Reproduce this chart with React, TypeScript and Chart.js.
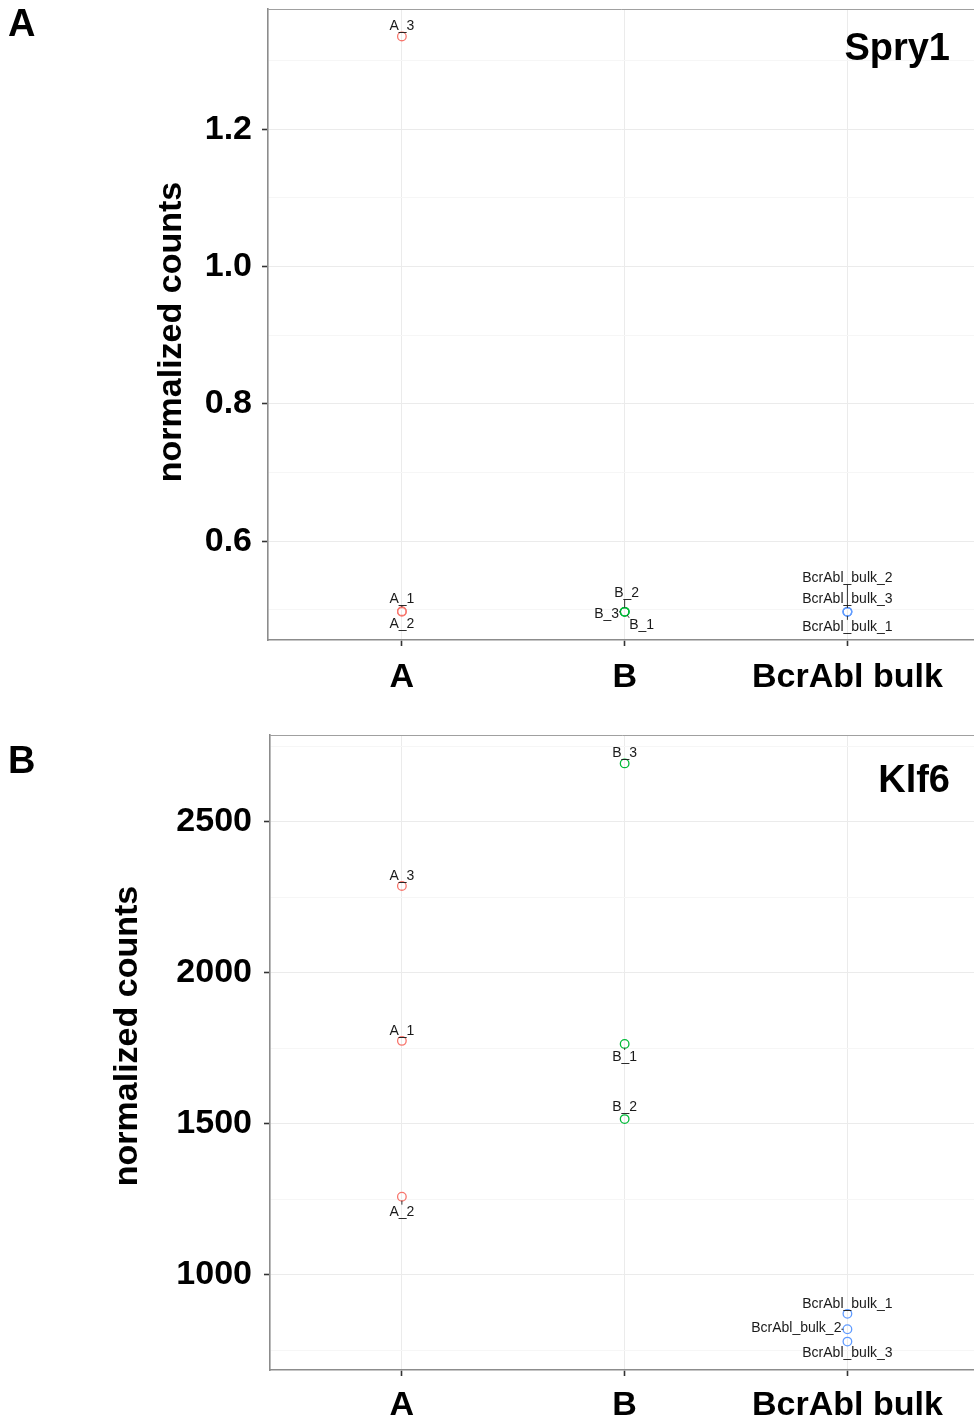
import React, { useEffect, useRef } from "react";
import { Chart, registerables } from "chart.js";

Chart.register(...registerables);

const FONT = "'Liberation Sans', Arial, Helvetica, sans-serif";

// ---------- data ----------
const categories = ["A", "B", "BcrAbl bulk"];
const groupColors = ["#F8766D", "#00BA38", "#619CFF"];

const sampleNamesA = ["A_1", "A_2", "A_3"];
const sampleNamesB = ["B_1", "B_2", "B_3"];
const sampleNamesBulk = ["BcrAbl_bulk_1", "BcrAbl_bulk_2", "BcrAbl_bulk_3"];

// Spry1 normalized counts
const spry1A = [0.498, 0.497, 1.335];
const spry1B = [0.497, 0.497, 0.497];
const spry1Bulk = [0.497, 0.497, 0.497];
const spry1Ticks = [0.5, 0.6, 0.7, 0.8, 0.9, 1.0, 1.1, 1.2, 1.3];
const spry1MajorTicks = [0.6, 0.8, 1.0, 1.2];

// Klf6 normalized counts
const klf6A = [1775, 1259, 2288];
const klf6B = [1765, 1516, 2694];
const klf6Bulk = [871, 820, 779];
const klf6Ticks = [750, 1000, 1250, 1500, 1750, 2000, 2250, 2500, 2750];
const klf6MajorTicks = [1000, 1500, 2000, 2500];

// label placement (pixel offsets from point, text alignment)
type Off = [number, number, "center" | "right"];
const spry1OffA: Off[] = [[0, -12.5, "center"], [0, 12, "center"], [0, -10.5, "center"]];
const spry1OffB: Off[] = [[17, 13, "center"], [2, -19, "center"], [-18, 2, "center"]];
const spry1OffBulk: Off[] = [[0, 15, "center"], [0, -34, "center"], [0, -13, "center"]];
const klf6OffA: Off[] = [[0, -9.5, "center"], [0, 15, "center"], [0, -10, "center"]];
const klf6OffB: Off[] = [[0, 13, "center"], [0, -12, "center"], [0, -10, "center"]];
const klf6OffBulk: Off[] = [[0, -9.5, "center"], [-6, -1.5, "right"], [0, 11.7, "center"]];

const CANVAS_W = 980;

interface PanelSpec {
  gene: string;
  letter: string;
  groups: number[][];
  names: string[][];
  offsets: Off[][];
  ticks: number[];
  majors: number[];
  yMin: number;
  yMax: number;
  xMin: number;
  xMax: number;
  fmt: (v: number) => string;
  canvasHeight: number;
  padTop: number;
  yAxisWidth: number;
  xAxisHeight: number;
  yTickPad: number;
  xTickPad: number;
  titleX: number;
  titleY: number;
  geneBaseline: number;
  letterBaseline: number;
}

const spry1Panel: PanelSpec = {
  gene: "Spry1",
  letter: "A",
  groups: [spry1A, spry1B, spry1Bulk],
  names: [sampleNamesA, sampleNamesB, sampleNamesBulk],
  offsets: [spry1OffA, spry1OffB, spry1OffBulk],
  ticks: spry1Ticks,
  majors: spry1MajorTicks,
  yMin: 0.456,
  yMax: 1.375,
  xMin: -0.601,
  xMax: 2.57,
  fmt: (v) => v.toFixed(1),
  canvasHeight: 710,
  padTop: 9,
  yAxisWidth: 268,
  xAxisHeight: 70,
  yTickPad: 10,
  xTickPad: 11,
  titleX: 172,
  titleY: 332,
  geneBaseline: 60,
  letterBaseline: 36,
};

const klf6Panel: PanelSpec = {
  gene: "Klf6",
  letter: "B",
  groups: [klf6A, klf6B, klf6Bulk],
  names: [sampleNamesA, sampleNamesB, sampleNamesBulk],
  offsets: [klf6OffA, klf6OffB, klf6OffBulk],
  ticks: klf6Ticks,
  majors: klf6MajorTicks,
  yMin: 685,
  yMax: 2788,
  xMin: -0.592,
  xMax: 2.57,
  fmt: (v) => String(v),
  canvasHeight: 711,
  padTop: 25,
  yAxisWidth: 270,
  xAxisHeight: 51,
  yTickPad: 12,
  xTickPad: 9.5,
  titleX: 128,
  titleY: 326,
  geneBaseline: 82,
  letterBaseline: 63,
};

function isMajor(v: number, majors: number[]) {
  return majors.some((m) => Math.abs(m - v) < 1e-6);
}

function zeroPad(s: any) {
  s.paddingTop = 0;
  s.paddingBottom = 0;
  s.paddingLeft = 0;
  s.paddingRight = 0;
}

const panelPlugin = {
  id: "panelDecor",
  afterDatasetsDraw(chart: any, _args: any, opts: any) {
    const p: PanelSpec = opts.spec;
    const ctx = chart.ctx;
    ctx.save();
    ctx.font = `14px ${FONT}`;
    ctx.textBaseline = "middle";
    ctx.fillStyle = "#1a1a1a";
    ctx.strokeStyle = "#333333";
    ctx.lineWidth = 1;
    p.groups.forEach((_g, gi) => {
      const meta = chart.getDatasetMeta(gi);
      meta.data.forEach((el: any, j: number) => {
        const name = p.names[gi][j];
        const [dx, dy, align] = p.offsets[gi][j];
        const px = el.x;
        const py = el.y;
        const lx = px + dx;
        const ly = py + dy;
        const w = ctx.measureText(name).width;
        const bx0 = align === "right" ? lx - w : lx - w / 2;
        const bx1 = align === "right" ? lx : lx + w / 2;
        const by0 = ly - 7;
        const by1 = ly + 7;
        const cx = Math.min(Math.max(px, bx0), bx1);
        const cy = Math.min(Math.max(py, by0), by1);
        const d = Math.hypot(cx - px, cy - py);
        if (d > 5) {
          const ux = (cx - px) / d;
          const uy = (cy - py) / d;
          ctx.beginPath();
          ctx.moveTo(px + ux * 4, py + uy * 4);
          ctx.lineTo(cx, cy);
          ctx.stroke();
        }
        ctx.textAlign = align;
        ctx.fillText(name, lx, ly);
      });
    });
    ctx.restore();
  },
  afterDraw(chart: any, _args: any, opts: any) {
    const p: PanelSpec = opts.spec;
    const ctx = chart.ctx;
    const area = chart.chartArea;
    ctx.save();
    // top border of panel
    ctx.strokeStyle = "#a0a0a0";
    ctx.lineWidth = 1;
    ctx.beginPath();
    ctx.moveTo(area.left, area.top + 0.5);
    ctx.lineTo(area.right, area.top + 0.5);
    ctx.stroke();
    // gene title
    ctx.fillStyle = "#000";
    ctx.font = `bold 38px ${FONT}`;
    ctx.textAlign = "right";
    ctx.textBaseline = "alphabetic";
    ctx.fillText(p.gene, 950, p.geneBaseline);
    // panel letter
    ctx.textAlign = "left";
    ctx.font = `bold 38px ${FONT}`;
    ctx.fillText(p.letter, 8, p.letterBaseline);
    // y axis title
    ctx.translate(p.titleX, p.titleY);
    ctx.rotate(-Math.PI / 2);
    ctx.font = `bold 34px ${FONT}`;
    ctx.textAlign = "center";
    ctx.textBaseline = "middle";
    ctx.fillText("normalized counts", 0, 0);
    ctx.restore();
  },
};

function buildConfig(p: PanelSpec): any {
  const datasets = p.groups.map((vals, gi) => ({
    label: categories[gi],
    data: vals.map((v) => ({ x: gi, y: v })),
    showLine: false,
    pointRadius: 4.3,
    pointHoverRadius: 4.3,
    pointBorderWidth: 1.3,
    pointBackgroundColor: "rgba(0,0,0,0)",
    pointBorderColor: groupColors[gi],
    borderColor: groupColors[gi],
    backgroundColor: "rgba(0,0,0,0)",
  }));
  return {
    type: "scatter",
    data: { datasets },
    options: {
      responsive: false,
      animation: false,
      events: [],
      layout: { padding: { top: p.padTop, left: 0, right: 0, bottom: 0 } },
      plugins: {
        legend: { display: false },
        tooltip: { enabled: false },
        panelDecor: { spec: p },
      },
      scales: {
        x: {
          type: "linear",
          min: p.xMin,
          max: p.xMax,
          afterBuildTicks: (s: any) => {
            s.ticks = categories.map((_c, i) => ({ value: i }));
          },
          afterFit: (s: any) => {
            s.height = p.xAxisHeight;
            zeroPad(s);
          },
          ticks: {
            callback: (v: any) => categories[v as number] ?? "",
            font: { family: FONT, size: 34, weight: "bold" },
            color: "#000",
            padding: p.xTickPad,
            maxRotation: 0,
            minRotation: 0,
            autoSkip: false,
          },
          grid: {
            color: "#EBEBEB",
            lineWidth: 1,
            tickColor: "#333333",
            tickLength: 6,
            tickWidth: 1.6,
          },
          border: { display: true, color: "#8c8c8c", width: 1.6 },
        },
        y: {
          type: "linear",
          min: p.yMin,
          max: p.yMax,
          afterBuildTicks: (s: any) => {
            s.ticks = p.ticks.map((v) => ({ value: v }));
          },
          afterFit: (s: any) => {
            s.width = p.yAxisWidth;
            zeroPad(s);
          },
          ticks: {
            callback: (v: any) => (isMajor(v as number, p.majors) ? p.fmt(v as number) : ""),
            font: { family: FONT, size: 34, weight: "bold" },
            color: "#000",
            padding: p.yTickPad,
            autoSkip: false,
          },
          grid: {
            color: (c: any) => (c.tick && isMajor(c.tick.value, p.majors) ? "#EBEBEB" : "#F6F6F6"),
            lineWidth: 1,
            tickColor: (c: any) => (c.tick && isMajor(c.tick.value, p.majors) ? "#333333" : "rgba(0,0,0,0)"),
            tickLength: 6,
            tickWidth: 1.6,
          },
          border: { display: true, color: "#8c8c8c", width: 1.6 },
        },
      },
    },
    plugins: [panelPlugin],
  };
}

function Panel({ spec, top }: { spec: PanelSpec; top: number }) {
  const ref = useRef<HTMLCanvasElement>(null);
  useEffect(() => {
    if (!ref.current) return;
    const chart = new Chart(ref.current, buildConfig(spec));
    return () => chart.destroy();
  }, [spec]);
  return (
    <canvas
      ref={ref}
      width={CANVAS_W}
      height={spec.canvasHeight}
      style={{ position: "absolute", left: 0, top, width: CANVAS_W, height: spec.canvasHeight, display: "block" }}
    />
  );
}

export default function App() {
  return (
    <div style={{ position: "absolute", left: 0, top: 0, width: 974, height: 1421, background: "#fff", overflow: "hidden" }}>
      <Panel spec={spry1Panel} top={0} />
      <Panel spec={klf6Panel} top={710} />
    </div>
  );
}
